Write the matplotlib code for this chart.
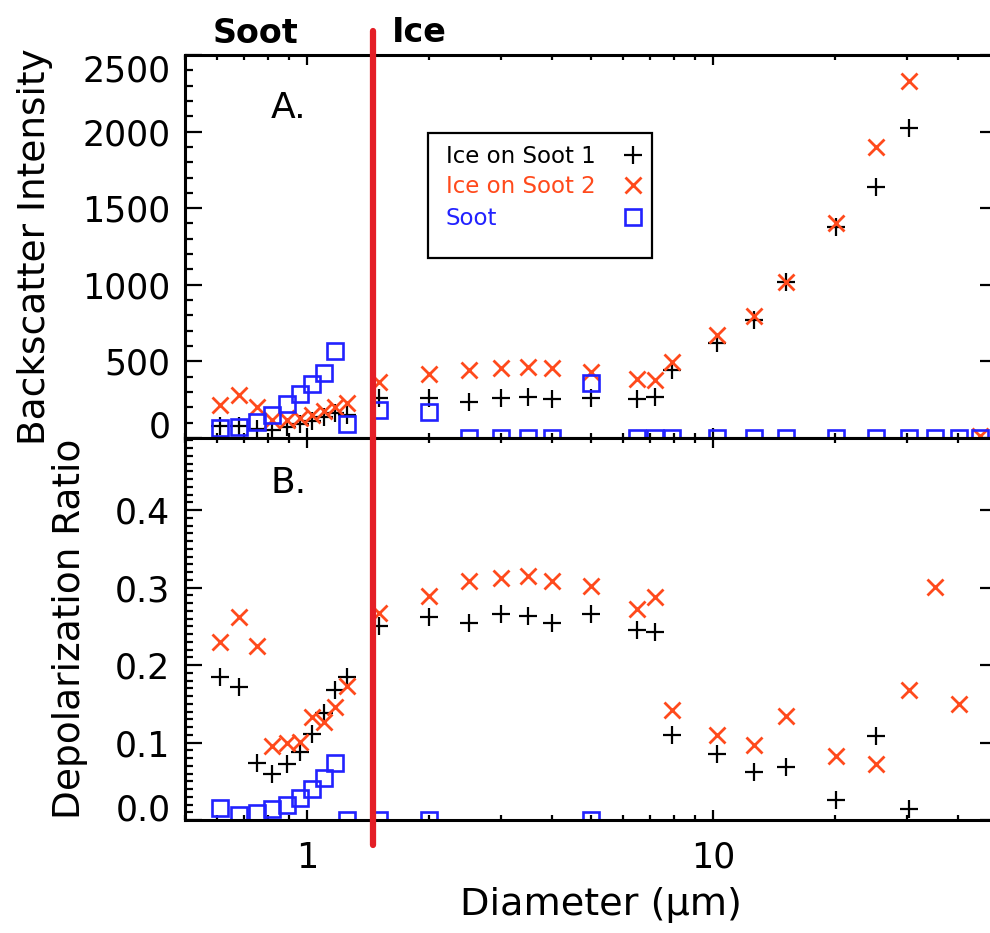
import numpy as np
import matplotlib
matplotlib.use('Agg')
import matplotlib.pyplot as plt
from matplotlib.lines import Line2D
from matplotlib.patches import Rectangle
from matplotlib.transforms import blended_transform_factory
from matplotlib.ticker import FixedLocator, MultipleLocator, NullFormatter

nan = np.nan

# particle diameters (um), soot mode then ice mode
diam = np.array([0.61, 0.68, 0.75, 0.82, 0.89, 0.96, 1.03, 1.10, 1.17, 1.25,
                 1.5, 2.0, 2.5, 3.0, 3.5, 4.0, 5.0, 6.5, 7.2, 7.9,
                 10.2, 12.6, 15.1, 20.1, 25.2, 30.3, 35.2, 40.2, 45.3])

# backscatter intensity
bs_ice1 = np.array([80, 75, 60, 55, 70, 90, 110, 140, 160, 150,
                    259, 259, 237, 259, 266, 253, 259, 253, 266, 444,
                    622, 771, 1021, 1380, 1641, 2022, nan, nan, nan])
bs_ice2 = np.array([215, 278, 200, 115, 120, 130, 150, 175, 200, 230,
                    368, 416, 444, 455, 466, 455, 433, 383, 379, 498,
                    673, 797, 1021, 1406, 1898, 2327, nan, nan, 10])
bs_soot = np.array([63, 72, 107, 150, 224, 285, 350, 424, 565, 94,
                    183, 172, 0, 0, 0, 0, 357, 0, 0, 0,
                    0, 0, 0, 0, 0, 0, 0, 0, 0])

# depolarization ratio
dp_ice1 = np.array([0.184, 0.172, 0.074, 0.059, 0.072, 0.088, 0.111, 0.138, 0.168, 0.184,
                    0.250, 0.262, 0.254, 0.266, 0.263, 0.254, 0.266, 0.245, 0.242, 0.110,
                    0.085, 0.062, 0.069, 0.026, 0.108, 0.014, nan, nan, nan])
dp_ice2 = np.array([0.230, 0.262, 0.224, 0.096, 0.100, 0.101, 0.133, 0.127, 0.146, 0.173,
                    0.267, 0.289, 0.309, 0.312, 0.315, 0.309, 0.302, 0.272, 0.288, 0.142,
                    0.110, 0.097, 0.134, 0.082, 0.072, 0.168, 0.301, 0.150, nan])
dp_soot = np.array([0.016, 0.006, 0.009, 0.014, 0.020, 0.028, 0.040, 0.054, 0.073, 0.0,
                    0.0, 0.0, nan, nan, nan, nan, 0.0, nan, nan, nan,
                    nan, nan, nan, nan, nan, nan, nan, nan, nan])

series_names = ['Ice on Soot 1', 'Ice on Soot 2', 'Soot']
split_diam = 1.45

c_black = 'black'
c_orange = '#ff4a1c'
c_blue = '#2222ff'
c_line = '#e41e26'

plt.rcParams['font.family'] = ['DejaVu Sans']

fig = plt.figure(figsize=(9.9, 9.33), dpi=100)
ax1 = fig.add_axes([0.1869, 0.5306, 0.8202, 0.4105])
ax2 = fig.add_axes([0.1869, 0.1211, 0.8202, 0.4095])


def draw_points(ax, y1, y2, y3):
    ax.plot(diam, y1, '+', color=c_black, ms=13.5, mew=1.6, ls='none')
    ax.plot(diam, y2, 'x', color=c_orange, ms=12, mew=2.0, ls='none')
    ax.plot(diam, y3, 's', color=c_blue, ms=11, mew=1.9, mfc='none', ls='none')


def style_axis(ax):
    ax.set_xscale('log')
    ax.set_xlim(0.5, 50)
    ax.xaxis.set_major_locator(FixedLocator([1, 10]))
    ax.xaxis.set_minor_locator(FixedLocator(
        [0.5, 0.6, 0.7, 0.8, 0.9, 2, 3, 4, 5, 6, 7, 8, 9, 20, 30, 40, 50]))
    ax.xaxis.set_minor_formatter(NullFormatter())
    for side in ax.spines.values():
        side.set_linewidth(2.2)
    ax.tick_params(axis='both', which='both', direction='in',
                   top=True, right=True, width=1.6, labelsize=25)
    ax.tick_params(axis='x', which='major', length=7.5, pad=15)
    ax.tick_params(axis='x', which='minor', length=3.8)
    ax.tick_params(axis='y', which='major', length=12.5, pad=10.5)
    ax.tick_params(axis='y', which='minor', length=6, right=False)


# panel A: backscatter intensity
draw_points(ax1, bs_ice1, bs_ice2, bs_soot)
style_axis(ax1)
ax1.set_ylim(0, 2500)
ax1.set_yticks([0, 500, 1000, 1500, 2000, 2500])
ax1.yaxis.set_minor_locator(MultipleLocator(100))
ax1.set_xticklabels([])
ylab1 = ax1.get_yticklabels()
ylab1[0].set_verticalalignment('baseline')
ylab1[-1].set_verticalalignment('top')
ax1.set_ylabel('Backscatter Intensity', fontsize=27)
ax1.yaxis.set_label_coords(-0.163, 0.5)
ax1.text(0.105, 0.835, 'A.', transform=ax1.transAxes, fontsize=26, va='baseline')

# legend box drawn by hand: text on the left, symbol on the right
ax1.add_patch(Rectangle((0.299, 0.470), 0.276, 0.326, transform=ax1.transAxes,
                        fill=False, lw=1.6, ec='black', zorder=5))
key_style = [('+', c_black, 13.5, 1.6, 'none'),
             ('x', c_orange, 12, 2.0, 'none'),
             ('s', c_blue, 11, 1.9, 'none')]
base_y = [0.718, 0.640, 0.556]
mark_y = [0.740, 0.661, 0.578]
for name, (m, col, ms, mew, mfc), by, my in zip(series_names, key_style, base_y, mark_y):
    ax1.text(0.321, by, name, color=col, fontsize=16.5, va='baseline',
             transform=ax1.transAxes, zorder=6)
    ax1.plot([0.552], [my], m, color=col, ms=ms, mew=mew, mfc=mfc,
             transform=ax1.transAxes, clip_on=False, zorder=6)

# panel B: depolarization ratio
draw_points(ax2, dp_ice1, dp_ice2, dp_soot)
style_axis(ax2)
ax2.set_ylim(0, 0.493)
ax2.set_yticks([0.0, 0.1, 0.2, 0.3, 0.4])
ax2.set_yticklabels(['0.0', '0.1', '0.2', '0.3', '0.4'])
ax2.yaxis.set_minor_locator(MultipleLocator(0.01))
ax2.set_xticklabels(['1', '10'])
ax2.get_yticklabels()[0].set_verticalalignment('baseline')
ax2.set_ylabel('Depolarization Ratio', fontsize=27)
ax2.yaxis.set_label_coords(-0.120, 0.5)
ax2.set_xlabel('Diameter (\u03bcm)', fontsize=27.5)
ax2.xaxis.set_label_coords(0.512, -0.176)
ax2.text(0.105, 0.856, 'B.', transform=ax2.transAxes, fontsize=26, va='baseline')

# soot / ice divider across both panels
split_tr = blended_transform_factory(ax1.transData, fig.transFigure)
fig.add_artist(Line2D([split_diam, split_diam], [0.0943, 0.967], transform=split_tr,
                      color=c_line, lw=4.5, solid_capstyle='round', zorder=10))
fig.text(0.2152, 0.9539, 'Soot', fontsize=24, fontweight='bold', va='baseline')
fig.text(0.396, 0.955, 'Ice', fontsize=24, fontweight='bold', va='baseline')

fig.savefig('out.png', dpi=100)
